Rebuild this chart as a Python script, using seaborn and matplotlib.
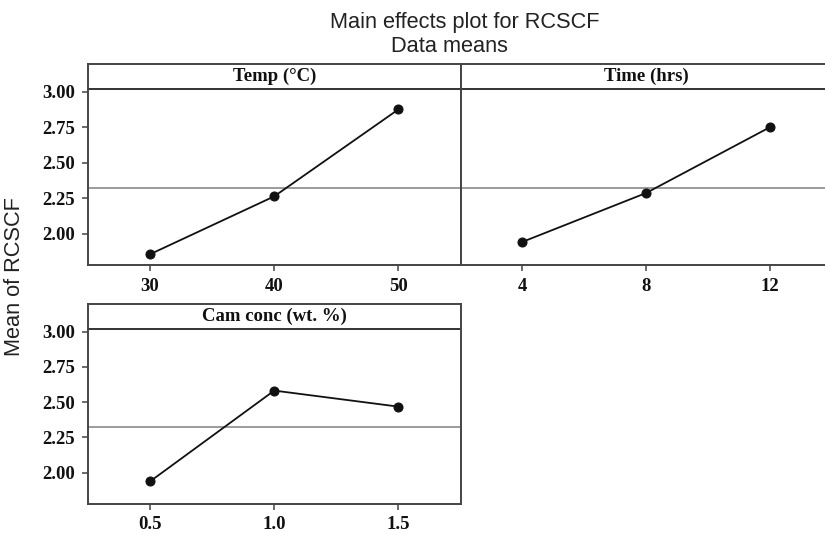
import matplotlib
matplotlib.use("Agg")
import matplotlib.pyplot as plt
import seaborn as sns
import pandas as pd
from matplotlib.ticker import FormatStrFormatter

# Données (moyennes par niveau)
temp_levels = [30, 40, 50]
temp_means = [1.856, 2.264, 2.877]
time_levels = [4, 8, 12]
time_means = [1.943, 2.288, 2.752]
cam_levels = [0.5, 1.0, 1.5]
cam_means = [1.937, 2.582, 2.468]
grand_mean = 2.325

panel_titles = ['Temp (°C)', 'Time (hrs)', 'Cam conc (wt. %)']
y_ticks = [2.00, 2.25, 2.50, 2.75, 3.00]

sns.set_style('white')
plt.rcParams['font.family'] = ['Liberation Sans', 'DejaVu Sans']

W, H = 825, 535
fig = plt.figure(figsize=(W / 100, H / 100), dpi=100)


def box(x0, y0, x1, y1):
    # coordonnées pixel -> fraction de figure
    return [x0 / W, 1 - y1 / H, (x1 - x0) / W, (y1 - y0) / H]


ax1 = fig.add_axes(box(88, 64, 460.5, 265))
ax2 = fig.add_axes(box(460.5, 64, 832, 265))
ax3 = fig.add_axes(box(88, 304, 460.5, 503.5))

panels = [
    (ax1, temp_levels, temp_means, (25, 55), '%d'),
    (ax2, time_levels, time_means, (2, 14), '%d'),
    (ax3, cam_levels, cam_means, (0.25, 1.75), '%.1f'),
]

tick_font = dict(family='Liberation Serif', weight='bold', size=13.5)

for (ax, lv, mv, xl, fmt), title in zip(panels, panel_titles):
    df = pd.DataFrame({'level': lv, 'mean': mv})
    sns.lineplot(data=df, x='level', y='mean', ax=ax, color='#111111',
                 linewidth=1.3, marker='o', markersize=6.5,
                 markeredgecolor='#111111')
    ax.axhline(grand_mean, color='#8a8a8a', linewidth=1.2, zorder=1)
    ax.axhline(3.022, color='#333333', linewidth=1.4, zorder=1)
    ax.set_xlim(*xl)
    ax.set_ylim(1.78, 3.197)
    ax.set_xticks(lv)
    ax.xaxis.set_major_formatter(FormatStrFormatter(fmt))
    ax.set_yticks(y_ticks)
    ax.yaxis.set_major_formatter(FormatStrFormatter('%.2f'))
    ax.set_xlabel('')
    ax.set_ylabel('')
    for s in ax.spines.values():
        s.set_color('#444444')
        s.set_linewidth(1.4)
    ax.tick_params(axis='both', direction='out', length=4.3, width=1.1,
                   color='#444444', pad=5.0, bottom=True, left=True)
    for lab in ax.get_xticklabels() + ax.get_yticklabels():
        lab.set_fontfamily('Liberation Serif')
        lab.set_fontweight('bold')
        lab.set_fontsize(13.5)
        lab.set_color('#111111')
    ax.text(0.5, 3.11, title, transform=ax.get_yaxis_transform(),
            ha='center', va='center', color='#111111', **tick_font)

# panneau de droite: pas de graduations sur y
ax2.tick_params(axis='y', left=False, labelleft=False)

fig.text(465 / W, 1 - 28 / H, 'Main effects plot for RCSCF', ha='center',
         va='baseline', fontsize=15.7, color='#222222')
fig.text(449 / W, 1 - 52 / H, 'Data means', ha='center', va='baseline',
         fontsize=15.7, color='#222222')
fig.text(15 / W, 1 - 277 / H, 'Mean of RCSCF', rotation=90, ha='center',
         va='center', fontsize=15.7, color='#222222')

fig.savefig('out.png', dpi=100)
